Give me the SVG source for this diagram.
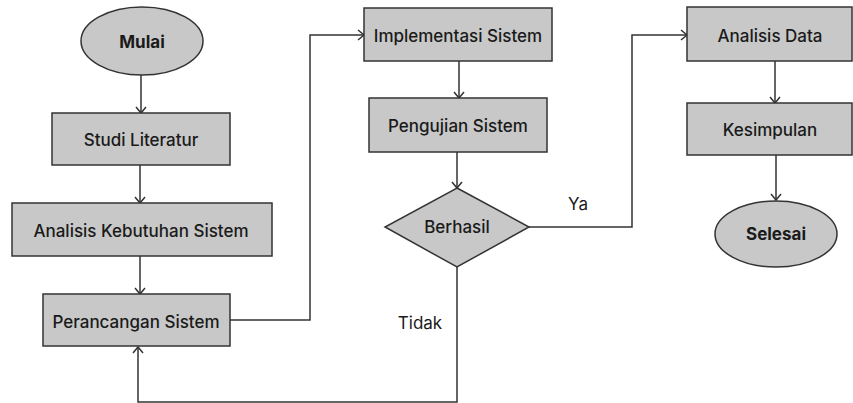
<svg xmlns="http://www.w3.org/2000/svg" width="853" height="403" viewBox="0 0 853 403">
<style>
.n{fill:#c8c8c8;stroke:#333;stroke-width:1.5}
.t{font-family:Inter,"Liberation Sans",sans-serif;font-size:17px;font-weight:500;fill:#1a1a1a;text-anchor:middle;dominant-baseline:central}
.l{font-weight:400}
.b{font-weight:bold}
.c{fill:none;stroke:#333;stroke-width:1.5}
</style>
<defs>
<marker id="a" markerWidth="12" markerHeight="12" refX="9" refY="6" orient="auto" markerUnits="userSpaceOnUse">
<path d="M3,1 L9,6 L3,11" fill="none" stroke="#333" stroke-width="1.5"/>
</marker>
</defs>
<rect width="853" height="403" fill="#fff"/>
<g id="connectors">
<line class="c" x1="141" y1="75" x2="141" y2="113" marker-end="url(#a)"/>
<line class="c" x1="140" y1="165" x2="140" y2="203" marker-end="url(#a)"/>
<line class="c" x1="140" y1="256" x2="140" y2="294" marker-end="url(#a)"/>
<polyline class="c" points="230,320 310,320 310,35 364,35" marker-end="url(#a)"/>
<line class="c" x1="459" y1="61" x2="459" y2="98" marker-end="url(#a)"/>
<line class="c" x1="457" y1="152" x2="457" y2="188" marker-end="url(#a)"/>
<polyline class="c" points="529,227 632,227 632,35 687,35" marker-end="url(#a)"/>
<polyline class="c" points="457,267 457,402 138,402 138,347" marker-end="url(#a)"/>
<line class="c" x1="775" y1="61" x2="775" y2="103" marker-end="url(#a)"/>
<line class="c" x1="776" y1="155" x2="776" y2="200" marker-end="url(#a)"/>
<text class="t l" x="578" y="204">Ya</text>
<text class="t l" x="420" y="323">Tidak</text>
</g>
<g id="mulai"><ellipse class="n" cx="142" cy="41" rx="61" ry="34"/><text class="t b" x="142" y="42">Mulai</text></g>
<g id="studi"><rect class="n" x="52" y="113" width="178" height="52"/><text class="t" x="141" y="140">Studi Literatur</text></g>
<g id="analisis-kebutuhan"><rect class="n" x="12" y="203" width="260" height="53"/><text class="t" x="141" y="231">Analisis Kebutuhan Sistem</text></g>
<g id="perancangan"><rect class="n" x="43" y="294" width="187" height="52"/><text class="t" x="136" y="322">Perancangan Sistem</text></g>
<g id="implementasi"><rect class="n" x="364" y="8" width="188" height="53"/><text class="t" x="458" y="36">Implementasi Sistem</text></g>
<g id="pengujian"><rect class="n" x="369" y="98" width="178" height="54"/><text class="t" x="458" y="126">Pengujian Sistem</text></g>
<g id="berhasil"><polygon class="n" points="457,188 529,227 457,267 385,227"/><text class="t" x="457" y="227">Berhasil</text></g>
<g id="analisis-data"><rect class="n" x="687" y="7" width="165" height="54"/><text class="t" x="770" y="36">Analisis Data</text></g>
<g id="kesimpulan"><rect class="n" x="687" y="103" width="165" height="52"/><text class="t" x="770" y="130">Kesimpulan</text></g>
<g id="selesai"><ellipse class="n" cx="776" cy="234" rx="61" ry="33"/><text class="t b" x="776" y="234">Selesai</text></g>
</svg>
